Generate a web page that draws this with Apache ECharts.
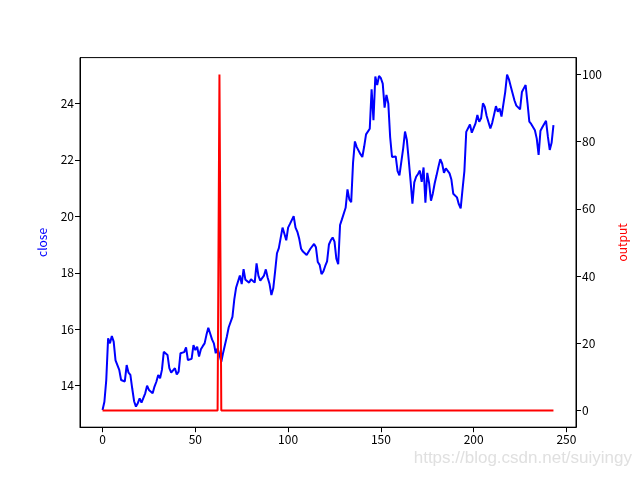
<!DOCTYPE html>
<html>
<head>
<meta charset="utf-8">
<script src="https://cdn.jsdelivr.net/npm/echarts@6/dist/echarts.min.js"></script>
<style>html,body{margin:0;padding:0;background:#fff}#c{width:640px;height:480px}</style>
</head>
<body>
<div id="c"></div>
<script>
var closeValues = [
13.14,13.43,14.2,15.68,15.5,15.76,15.56,14.9,14.87,14.56,
14.2,14.14,14.15,14.73,14.46,14.38,13.9,13.45,13.26,13.38,
13.55,13.4,13.38,13.73,14.0,13.85,13.9,13.73,13.97,14.14,
14.38,14.26,14.56,15.2,15.15,15.09,14.62,14.46,14.46,14.62,
14.4,14.5,15.15,15.12,15.19,15.36,14.91,14.95,14.95,15.44,
15.26,15.38,15.03,15.29,15.4,15.5,15.8,16.05,15.85,15.64,
15.5,15.15,15.32,15.1,14.85,15.17,15.22,15.74,16.07,16.09,
16.44,17.06,17.48,17.55,17.9,17.6,18.13,17.75,17.77,17.65,
17.77,17.72,17.65,18.33,17.9,17.72,17.7,17.9,18.12,17.82,
17.6,17.21,17.45,18.05,18.69,18.87,18.9,19.6,19.38,19.15,
19.6,19.73,19.8,20.0,19.6,19.45,19.2,18.85,18.75,18.71,
18.63,18.6,18.85,18.78,19.02,18.9,18.38,18.28,17.95,18.05,
18.24,18.4,19.0,19.15,19.25,19.1,18.5,18.3,19.69,19.89,
19.95,20.3,20.95,20.6,20.5,21.9,22.65,22.45,22.4,22.2,
22.1,22.47,22.9,22.85,23.1,24.5,23.4,24.95,24.65,24.97,
24.89,24.7,23.85,24.3,24.0,22.8,22.1,22.15,22.12,21.6,
21.45,21.5,22.4,23.0,22.7,22.0,21.25,20.45,21.2,21.4,
21.5,21.62,21.22,21.73,20.48,21.54,21.17,20.55,20.81,21.17,
21.45,21.75,22.02,21.87,21.54,21.7,21.66,21.52,21.3,20.8,
20.79,20.67,20.43,20.28,20.95,21.6,22.99,23.02,23.25,22.96,
22.96,23.29,23.59,23.35,23.47,24.0,23.88,23.55,23.55,23.11,
23.31,23.6,23.9,23.7,23.82,23.53,23.5,24.4,25.02,24.85,
24.6,24.35,24.1,23.92,23.85,23.79,24.4,24.53,24.65,24.02,
23.35,23.27,23.23,23.05,22.75,22.17,23.03,23.15,23.11,23.38,
22.82,22.35,22.6,23.23
];
var outputValues = [
0,0,0,0,0,0,0,0,0,0,
0,0,0,0,0,0,0,0,0,0,
0,0,0,0,0,0,0,0,0,0,
0,0,0,0,0,0,0,0,0,0,
0,0,0,0,0,0,0,0,0,0,
0,0,0,0,0,0,0,0,0,0,
0,0,0,100,0,0,0,0,0,0,
0,0,0,0,0,0,0,0,0,0,
0,0,0,0,0,0,0,0,0,0,
0,0,0,0,0,0,0,0,0,0,
0,0,0,0,0,0,0,0,0,0,
0,0,0,0,0,0,0,0,0,0,
0,0,0,0,0,0,0,0,0,0,
0,0,0,0,0,0,0,0,0,0,
0,0,0,0,0,0,0,0,0,0,
0,0,0,0,0,0,0,0,0,0,
0,0,0,0,0,0,0,0,0,0,
0,0,0,0,0,0,0,0,0,0,
0,0,0,0,0,0,0,0,0,0,
0,0,0,0,0,0,0,0,0,0,
0,0,0,0,0,0,0,0,0,0,
0,0,0,0,0,0,0,0,0,0,
0,0,0,0,0,0,0,0,0,0,
0,0,0,0,0,0,0,0,0,0,
0,0,0,0
];
var xTicks = [0, 50, 100, 150, 200, 250];
var leftTicks = [14, 16, 18, 20, 22, 24];
var rightTicks = [0, 20, 40, 60, 80, 100];

var font = 'Noto Sans CJK SC';
var closeData = closeValues.map(function (v, i) { return [i, v]; });
var outputData = outputValues.map(function (v, i) { return [i, v]; });

var chart = echarts.init(document.getElementById('c'), null, {renderer: 'canvas'});
function axisCommon() {
  return {
    axisLine: {show: true, onZero: false, lineStyle: {color: '#000', width: 1}},
    axisTick: {show: true, inside: false, length: 5, lineStyle: {color: '#000', width: 1}},
    axisLabel: {color: '#000', fontSize: 12, fontFamily: font, margin: 6},
    splitLine: {show: false}
  };
}
chart.setOption({
  animation: false,
  backgroundColor: '#fff',
  grid: {left: 80, right: 64, top: 57.6, bottom: 52.8, show: true, borderColor: '#000', borderWidth: 1, backgroundColor: 'transparent'},
  xAxis: echarts.util.merge({
    type: 'value', min: -12.15, max: 255.15,
    axisTick: {customValues: xTicks},
    axisLabel: {customValues: xTicks}
  }, axisCommon(), false),
  yAxis: [
    echarts.util.merge({
      type: 'value', position: 'left', min: 12.53, max: 25.62,
      name: 'close', nameLocation: 'middle', nameGap: 32, nameRotate: 90,
      nameTextStyle: {color: '#0000ff', fontSize: 12, fontFamily: font},
      axisTick: {customValues: leftTicks},
      axisLabel: {customValues: leftTicks}
    }, axisCommon(), false),
    echarts.util.merge({
      type: 'value', position: 'right', min: -5, max: 105,
      name: 'output', nameLocation: 'middle', nameGap: 40, nameRotate: 90,
      nameTextStyle: {color: '#ff0000', fontSize: 12, fontFamily: font},
      axisTick: {customValues: rightTicks},
      axisLabel: {customValues: rightTicks}
    }, axisCommon(), false)
  ],
  series: [
    {type: 'line', yAxisIndex: 0, data: closeData, showSymbol: false, symbol: 'none',
     lineStyle: {color: '#0000ff', width: 2}, itemStyle: {color: '#0000ff'}},
    {type: 'line', yAxisIndex: 1, data: outputData, showSymbol: false, symbol: 'none',
     lineStyle: {color: '#ff0000', width: 2}, itemStyle: {color: '#ff0000'}}
  ],
  graphic: [{
    type: 'text', right: 8, top: 450,
    style: {text: 'https://blog.csdn.net/suiyingy', fill: '#e0e0e0', fontSize: 17, fontFamily: 'Liberation Sans'}
  }]
});
</script>
</body>
</html>
